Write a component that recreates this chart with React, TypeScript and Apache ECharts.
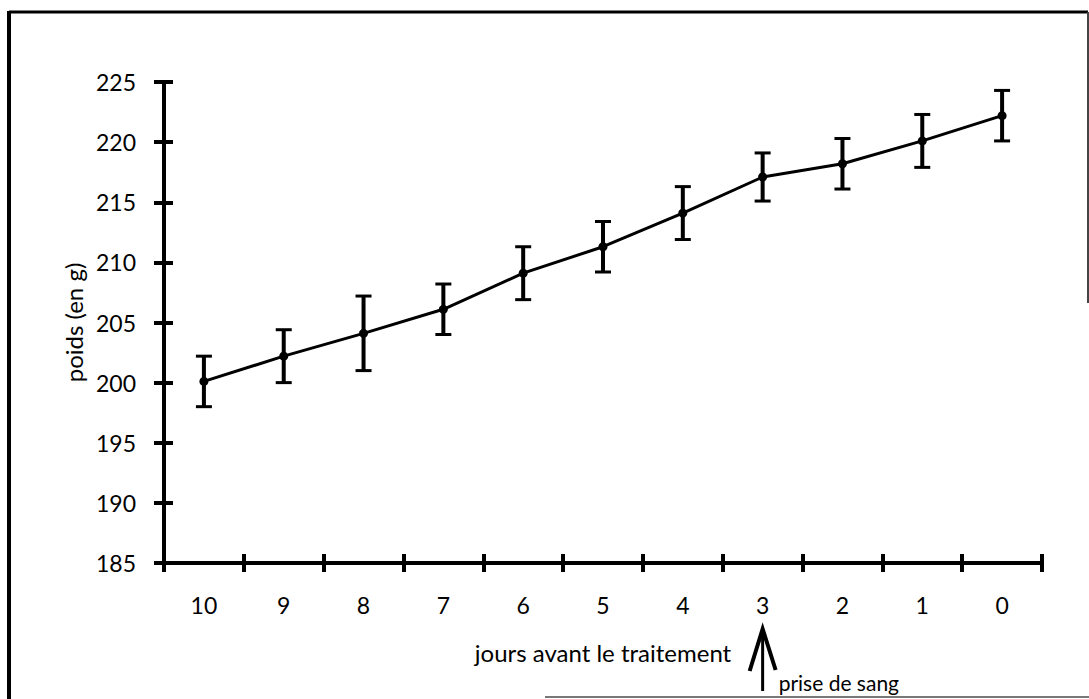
import React, { useEffect, useRef } from "react";
import * as echarts from "echarts";

const days = ["10", "9", "8", "7", "6", "5", "4", "3", "2", "1", "0"];
const poids = [200.1, 202.2, 204.1, 206.1, 209.1, 211.3, 214.1, 217.1, 218.2, 220.1, 222.2];
const erreur = [2.1, 2.2, 3.1, 2.1, 2.2, 2.1, 2.2, 2.0, 2.1, 2.2, 2.1];
const yMin = 185;
const yMax = 225;
const yStep = 5;
const xName = "jours avant le traitement";
const yName = "poids (en g)";
const annotationDay = "3";
const annotationText = "prise de sang";

const FONT = "Lato";

export default function App() {
  const ref = useRef<HTMLDivElement>(null);

  useEffect(() => {
    if (!ref.current) return;
    const chart = echarts.init(ref.current, null, { renderer: "svg" });

    const errData = days.map((d, i) => [i, poids[i] - erreur[i], poids[i] + erreur[i]]);
    const annData = [[days.indexOf(annotationDay), yMin]];

    const tickStyle = { color: "#000", width: 4 };

    const option: any = {
      animation: false,
      backgroundColor: "#fff",
      grid: { left: 164, top: 82, width: 878, height: 481 },
      xAxis: [
        {
          type: "category",
          data: days,
          boundaryGap: true,
          position: "bottom",
          axisLine: { show: true, lineStyle: { color: "#000", width: 4 } },
          axisTick: { show: true, inside: false, length: 9, lineStyle: tickStyle },
          axisLabel: {
            color: "#000",
            fontFamily: FONT,
            fontSize: 23,
            margin: 30,
          },
          name: xName,
          nameLocation: "middle",
          nameGap: 77,
          nameTextStyle: { color: "#000", fontFamily: FONT, fontSize: 24 },
          splitLine: { show: false },
        },
        {
          type: "category",
          data: days,
          boundaryGap: true,
          position: "bottom",
          axisLine: { show: false },
          axisTick: { show: true, inside: true, length: 9, lineStyle: tickStyle },
          axisLabel: { show: false },
          splitLine: { show: false },
        },
      ],
      yAxis: [
        {
          type: "value",
          min: yMin,
          max: yMax,
          interval: yStep,
          position: "left",
          axisLine: { show: true, lineStyle: { color: "#000", width: 4 } },
          axisTick: { show: true, inside: false, length: 10, lineStyle: tickStyle },
          axisLabel: {
            color: "#000",
            fontFamily: FONT,
            fontSize: 23,
            margin: 28,
          },
          splitLine: { show: false },
          name: yName,
          nameLocation: "middle",
          nameGap: 79,
          nameRotate: 90,
          nameTextStyle: { color: "#000", fontFamily: FONT, fontSize: 24 },
        },
        {
          type: "value",
          min: yMin,
          max: yMax,
          interval: yStep,
          position: "left",
          axisLine: { show: false },
          axisTick: { show: true, inside: true, length: 9, lineStyle: tickStyle },
          axisLabel: { show: false },
          splitLine: { show: false },
        },
      ],
      graphic: [
        { type: "line", shape: { x1: 9, y1: 11, x2: 9, y2: 699 }, style: { stroke: "#000", lineWidth: 4 } },
        { type: "line", shape: { x1: 9, y1: 12, x2: 1088, y2: 12 }, style: { stroke: "#000", lineWidth: 3 } },
        { type: "line", shape: { x1: 1088, y1: 12, x2: 1088, y2: 303 }, style: { stroke: "#444", lineWidth: 2 } },
        { type: "line", shape: { x1: 545, y1: 697, x2: 1089, y2: 697 }, style: { stroke: "#777", lineWidth: 2 } },
      ],
      series: [
        {
          type: "custom",
          name: "erreur",
          xAxisIndex: 0,
          yAxisIndex: 0,
          data: errData,
          clip: false,
          z: 3,
          renderItem: (params: any, api: any) => {
            const i = api.value(0);
            const lo = api.coord([i, api.value(1)]);
            const hi = api.coord([i, api.value(2)]);
            const cap = 8;
            const st = { stroke: "#000", lineWidth: 3 };
            return {
              type: "group",
              children: [
                { type: "line", shape: { x1: lo[0], y1: lo[1], x2: hi[0], y2: hi[1] }, style: { stroke: "#000", lineWidth: 4 } },
                { type: "line", shape: { x1: hi[0] - cap, y1: hi[1], x2: hi[0] + cap, y2: hi[1] }, style: st },
                { type: "line", shape: { x1: lo[0] - cap, y1: lo[1], x2: lo[0] + cap, y2: lo[1] }, style: st },
              ],
            };
          },
        },
        {
          type: "line",
          name: "poids",
          xAxisIndex: 0,
          yAxisIndex: 0,
          data: poids,
          symbol: "circle",
          symbolSize: 9,
          lineStyle: { color: "#000", width: 3 },
          itemStyle: { color: "#000" },
          z: 4,
        },
        {
          type: "custom",
          name: "annotation",
          xAxisIndex: 0,
          yAxisIndex: 0,
          data: annData,
          clip: false,
          z: 5,
          renderItem: (params: any, api: any) => {
            const p = api.coord([api.value(0), api.value(1)]);
            const x = p[0];
            const tip = p[1] + 66;
            const tail = p[1] + 128;
            return {
              type: "group",
              children: [
                { type: "line", shape: { x1: x, y1: tip + 2, x2: x, y2: tail }, style: { stroke: "#000", lineWidth: 3 } },
                {
                  type: "polyline",
                  shape: { points: [[x - 13, tip + 42], [x, tip], [x + 13, tip + 41]] },
                  style: { stroke: "#000", lineWidth: 4, fill: "none", lineJoin: "miter" },
                },
                {
                  type: "text",
                  x: x + 16,
                  y: p[1] + 119,
                  style: {
                    text: annotationText,
                    fill: "#000",
                    font: `21px ${FONT}`,
                    verticalAlign: "middle",
                    align: "left",
                  },
                },
              ],
            };
          },
        },
      ],
    };

    chart.setOption(option);
    return () => chart.dispose();
  }, []);

  return (
    <div
      ref={ref}
      style={{ position: "fixed", left: 0, top: 0, width: 1089, height: 699, background: "#fff" }}
    />
  );
}
